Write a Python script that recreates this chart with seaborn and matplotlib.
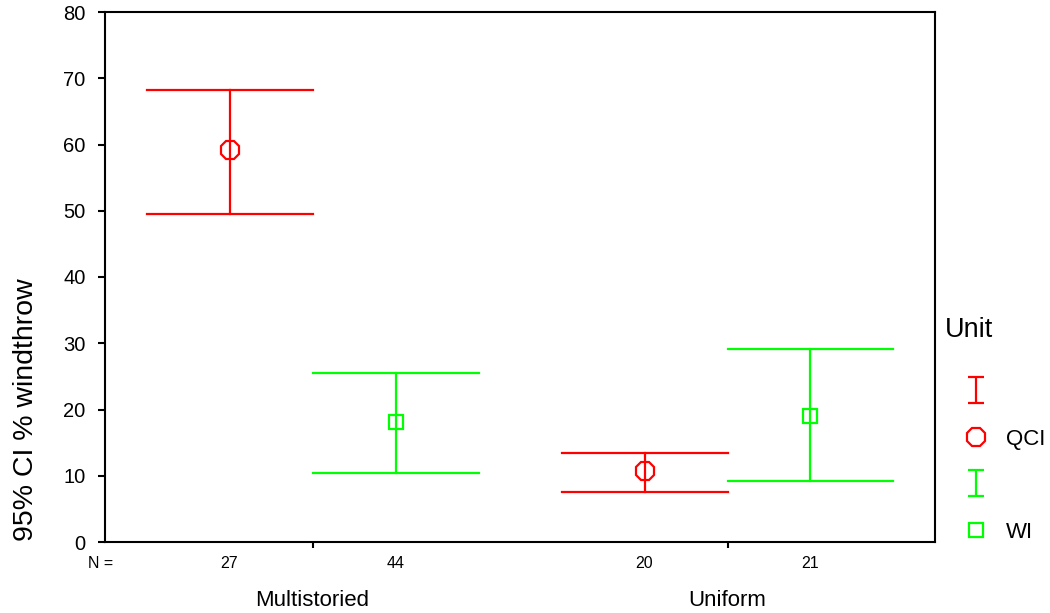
import numpy as np
import pandas as pd
import matplotlib
matplotlib.use("Agg")
import matplotlib.pyplot as plt
from matplotlib.path import Path
from matplotlib.lines import Line2D
import seaborn as sns

# Stand structure categories and the two management units
stand_types = ["Multistoried", "Uniform"]
units = ["QCI", "WI"]

# Mean % windthrow with 95% confidence limits, per unit (order follows stand_types)
qci_mean = [59.2, 10.7]
qci_lower = [49.5, 7.6]
qci_upper = [68.3, 13.5]
wi_mean = [18.1, 19.0]
wi_lower = [10.4, 9.2]
wi_upper = [25.5, 29.1]

# Number of cases behind each interval
qci_n = [27, 20]
wi_n = [44, 21]

unit_colors = {"QCI": "#FF0000", "WI": "#00FF00"}
unit_markers = {"QCI": "8", "WI": "s"}
marker_sizes = {"QCI": 14.5, "WI": 10.5}

# Long table: each interval as (lower, mean, upper) so that the median is the
# mean and the 0-100 percentile interval spans the confidence limits.
rows = []
for unit, means, lows, highs in [("QCI", qci_mean, qci_lower, qci_upper),
                                 ("WI", wi_mean, wi_lower, wi_upper)]:
    for stand, m, lo, hi in zip(stand_types, means, lows, highs):
        for v in (lo, m, hi):
            rows.append({"Stand": stand, "Unit": unit, "windthrow": v})
df = pd.DataFrame(rows)

plt.rcParams["font.family"] = ["Liberation Sans", "DejaVu Sans"]

fig = plt.figure(figsize=(10.5, 6.13), dpi=100)
ax = fig.add_axes([105 / 1050, 1 - 542 / 613, 830 / 1050, 530 / 613])

sns.pointplot(
    data=df, x="Stand", y="windthrow", hue="Unit",
    order=stand_types, hue_order=units,
    palette=unit_colors, markers=[unit_markers[u] for u in units],
    estimator="median", errorbar=("pi", 100),
    dodge=0.4, capsize=0.4, linestyle="none",
    err_kws={"linewidth": 1.6}, markersize=13,
    markeredgewidth=1.6, ax=ax, legend=False,
)
for line in ax.lines:
    line.set_markerfacecolor("none")
    if line.get_marker() == "s":
        line.set_markersize(marker_sizes["WI"])
    elif line.get_marker() == "8":
        line.set_markersize(marker_sizes["QCI"])

ax.set_xlim(-0.5, 1.5)
ax.set_ylim(0, 80)
ax.set_yticks(np.arange(0, 81, 10))
ax.tick_params(axis="y", labelsize=14.5, length=5, width=1.5, direction="out", pad=9)
ax.set_xticks(range(len(stand_types)))
ax.set_xticklabels(stand_types)
ax.tick_params(axis="x", labelsize=16, length=4.5, width=1.5, direction="out", pad=30)
ax.set_xlabel("")
for s in ax.spines.values():
    s.set_linewidth(1.5)
    s.set_color("black")

ax.set_ylabel("95% CI % windthrow", fontsize=20.5)
ax.yaxis.set_label_coords(-0.095, 0.25)
ax.yaxis.label.set_va("center")

# Case counts under each interval
trans = ax.get_xaxis_transform()
offsets = {"QCI": -0.2, "WI": 0.2}
ax.text(-0.51, -0.04, "N =", transform=trans, ha="center", va="center", fontsize=11.5)
for unit, counts in [("QCI", qci_n), ("WI", wi_n)]:
    for i, n in enumerate(counts):
        ax.text(i + offsets[unit], -0.04, str(n), transform=trans,
                ha="center", va="center", fontsize=11.5)

# Legend: error-bar glyph followed by the mean marker for each unit
fig.text(945 / 1050, 1 - 330 / 613, "Unit", ha="left", va="center", fontsize=19.5)
ibar = Path([(-0.3, -0.5), (0.3, -0.5), (0, -0.5), (0, 0.5), (-0.3, 0.5), (0.3, 0.5)],
            [Path.MOVETO, Path.LINETO, Path.MOVETO, Path.LINETO, Path.MOVETO, Path.LINETO])
handles, labels = [], []
for unit in units:
    handles.append(Line2D([], [], linestyle="none", marker=ibar, markersize=19,
                          markeredgewidth=1.6, color=unit_colors[unit]))
    labels.append(" ")
    handles.append(Line2D([], [], linestyle="none", marker=unit_markers[unit],
                          markersize=marker_sizes[unit],
                          markerfacecolor="none", markeredgewidth=1.6,
                          color=unit_colors[unit]))
    labels.append(unit)
leg = fig.legend(handles, labels, loc="upper left",
                 bbox_to_anchor=(946 / 1050, 1 - 382 / 613), frameon=False,
                 fontsize=16, handlelength=2.7, handletextpad=0.0,
                 labelspacing=1.15, borderpad=0, borderaxespad=0)

fig.savefig("out.png", dpi=100)
